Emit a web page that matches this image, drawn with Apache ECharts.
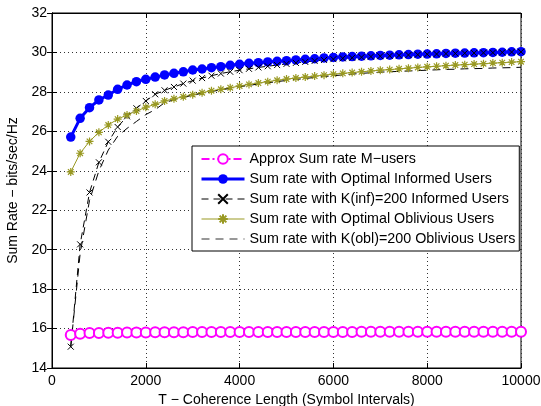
<!DOCTYPE html>
<html>
<head>
<meta charset="utf-8">
<script src="https://cdn.jsdelivr.net/npm/echarts@6/dist/echarts.min.js"></script>
<style>
html,body{margin:0;padding:0;background:#fff;}
#c{width:541px;height:406px;}
</style>
</head>
<body>
<div id="c"></div>
<script>
// T values: 400..10000 in steps of 200 (symbol intervals)
const T = [400,600,800,1000,1200,1400,1600,1800,2000,2200,2400,2600,2800,3000,3200,3400,3600,3800,4000,4200,4400,4600,4800,5000,5200,5400,5600,5800,6000,6200,6400,6600,6800,7000,7200,7400,7600,7800,8000,8200,8400,8600,8800,9000,9200,9400,9600,9800,10000];

const approxM = [15.67,15.74,15.77,15.78,15.79,15.79,15.80,15.80,15.80,15.81,15.81,15.81,15.81,15.82,15.82,15.82,15.82,15.82,15.82,15.82,15.83,15.83,15.83,15.83,15.83,15.83,15.83,15.83,15.83,15.83,15.83,15.84,15.84,15.84,15.84,15.84,15.84,15.84,15.84,15.84,15.84,15.84,15.84,15.84,15.84,15.84,15.84,15.84,15.84];

const optInformed = [25.71,26.66,27.20,27.59,27.84,28.13,28.35,28.52,28.64,28.75,28.86,28.94,29.02,29.11,29.16,29.23,29.28,29.35,29.40,29.45,29.48,29.52,29.55,29.58,29.62,29.65,29.68,29.72,29.75,29.77,29.79,29.81,29.83,29.85,29.86,29.88,29.89,29.91,29.92,29.93,29.95,29.96,29.97,29.98,29.99,30.00,30.01,30.03,30.04];

const kInformed = [15.08,20.27,22.90,24.43,25.47,26.22,26.76,27.17,27.54,27.88,28.08,28.25,28.42,28.57,28.70,28.82,28.93,29.02,29.10,29.17,29.24,29.30,29.36,29.42,29.47,29.52,29.57,29.62,29.66,29.70,29.73,29.76,29.79,29.81,29.83,29.85,29.87,29.89,29.91,29.92,29.94,29.95,29.96,29.97,29.98,29.99,30.00,30.02,30.03];

const optOblivious = [23.94,24.89,25.49,25.95,26.32,26.62,26.83,27.03,27.22,27.37,27.54,27.65,27.75,27.86,27.96,28.06,28.13,28.21,28.30,28.38,28.45,28.52,28.59,28.65,28.70,28.75,28.80,28.85,28.90,28.94,28.98,29.02,29.06,29.10,29.13,29.17,29.20,29.24,29.27,29.30,29.33,29.36,29.38,29.41,29.43,29.46,29.48,29.51,29.53];

const kOblivious = [15.10,19.80,22.50,24.00,25.05,25.75,26.15,26.50,26.85,27.10,27.45,27.60,27.72,27.83,27.93,28.02,28.10,28.18,28.26,28.33,28.40,28.46,28.52,28.58,28.63,28.68,28.73,28.78,28.82,28.86,28.90,28.94,28.97,29.00,29.02,29.04,29.06,29.08,29.10,29.12,29.14,29.15,29.17,29.18,29.19,29.21,29.22,29.23,29.25];

const xTicks = [0,2000,4000,6000,8000,10000];
const yTicks = [14,16,18,20,22,24,26,28,30,32];

const names = [
  'Approx Sum rate M\u2212users',
  'Sum rate with Optimal Informed Users',
  'Sum rate with K(inf)=200 Informed Users',
  'Sum rate with Optimal Oblivious Users',
  'Sum rate with K(obl)=200 Oblivious Users'
];

const pair = arr => T.map((t,i)=>[t,arr[i]]);
const FONT = '"Liberation Sans", Arial, Helvetica, sans-serif';
const FS = 14;
const OLIVE = '#999922';
const xSym = 'path://M0,0L10,10M10,0L0,10';
const starSym = 'path://M5,0L5,10M0,5L10,5M1.5,1.5L8.5,8.5M8.5,1.5L1.5,8.5';

const gridLine = {show:true, lineStyle:{color:'#333', type:[1,3], width:1}};
const chart = echarts.init(document.getElementById('c'), null, {renderer:'canvas'});
chart.setOption({
  animation:false,
  backgroundColor:'#fff',
  textStyle:{fontFamily:FONT},
  grid:{left:52, right:20, top:13, bottom:38, show:true, borderColor:'#000', borderWidth:1,
        backgroundColor:'transparent', containLabel:false, outerBoundsMode:'none'},
  xAxis:[{
    type:'value', min:xTicks[0], max:xTicks[xTicks.length-1], interval:2000,
    name:'T \u2212 Coherence Length (Symbol Intervals)', nameLocation:'middle', nameGap:24,
    nameTextStyle:{fontSize:FS, color:'#000', fontFamily:FONT},
    axisLine:{show:true, lineStyle:{color:'#000', width:1}},
    axisTick:{show:true, inside:true, length:5, lineStyle:{color:'#000'}},
    axisLabel:{fontSize:FS, color:'#000', margin:6, fontFamily:FONT, formatter:v=>String(v)},
    splitLine:gridLine
  },{
    type:'value', position:'top', min:0, max:10000, interval:2000,
    axisLine:{show:true, lineStyle:{color:'#000'}},
    axisTick:{show:true, inside:true, length:5, lineStyle:{color:'#000'}},
    axisLabel:{show:false}, splitLine:{show:false}
  }],
  yAxis:[{
    type:'value', min:yTicks[0], max:yTicks[yTicks.length-1], interval:2,
    name:'Sum Rate \u2212 bits/sec/Hz', nameLocation:'middle', nameGap:25,
    nameTextStyle:{fontSize:FS, color:'#000', fontFamily:FONT},
    axisLine:{show:true, lineStyle:{color:'#000', width:1}},
    axisTick:{show:true, inside:true, length:5, lineStyle:{color:'#000'}},
    axisLabel:{fontSize:FS, color:'#000', margin:5, fontFamily:FONT},
    splitLine:gridLine
  },{
    type:'value', position:'right', min:14, max:32, interval:2,
    axisLine:{show:true, lineStyle:{color:'#000'}},
    axisTick:{show:true, inside:true, length:5, lineStyle:{color:'#000'}},
    axisLabel:{show:false}, splitLine:{show:false}
  }],
  legend:{
    left:192, top:146, orient:'vertical',
    backgroundColor:'#fff', borderColor:'#000', borderWidth:1,
    padding:[6,4,5,8], itemGap:6, itemWidth:43, itemHeight:12,
    textStyle:{fontSize:14.3, color:'#000', fontFamily:FONT, lineHeight:14},
    data:[
      {name:names[0], lineStyle:{width:2}},
      {name:names[1], lineStyle:{width:3}},
      {name:names[2], lineStyle:{width:1}},
      {name:names[3], lineStyle:{width:1}},
      {name:names[4], itemStyle:{opacity:0}, lineStyle:{color:'#777', width:1.5}}
    ]
  },
  series:[
    {name:names[0], type:'line', data:pair(approxM), symbol:'emptyCircle', symbolSize:10, showAllSymbol:true,
     lineStyle:{color:'#ff00ff', width:2, type:[8,3,2,3]},
     itemStyle:{color:'#ff00ff', borderColor:'#ff00ff', borderWidth:2.5}},
    {name:names[1], type:'line', data:pair(optInformed), symbol:'circle', symbolSize:9.5, showAllSymbol:true,
     lineStyle:{color:'#0000ff', width:3},
     itemStyle:{color:'#0000ff'}},
    {name:names[2], type:'line', data:pair(kInformed), symbol:xSym, symbolSize:6, showAllSymbol:true,
     lineStyle:{color:'#000', width:1, type:[7,5]},
     itemStyle:{color:'#000', borderColor:'#000', borderWidth:1}},
    {name:names[3], type:'line', data:pair(optOblivious), symbol:starSym, symbolSize:8, showAllSymbol:true,
     lineStyle:{color:OLIVE, width:1},
     itemStyle:{color:OLIVE, borderColor:OLIVE, borderWidth:1.2}},
    {name:names[4], type:'line', data:pair(kOblivious), symbol:'none', showSymbol:false,
     lineStyle:{color:'#000', width:1, type:[8,6]},
     itemStyle:{color:'#000'}}
  ]
});
</script>
</body>
</html>
